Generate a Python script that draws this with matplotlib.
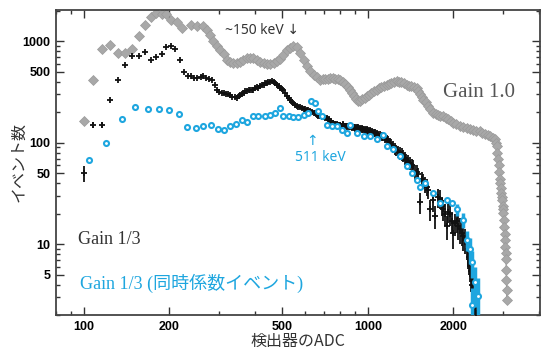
import matplotlib
matplotlib.use("Agg")
import matplotlib.pyplot as plt
from matplotlib.ticker import FixedLocator, LogLocator, NullFormatter, FixedFormatter

plt.rcParams['font.family'] = ['Noto Sans CJK JP', 'DejaVu Sans']

# Gain 1.0 (gray diamonds)
gray_x = [100, 108, 116, 124, 132, 140, 148, 156, 164, 172, 180, 188, 195, 203, 213, 222,
          238, 251, 264, 271, 279, 286, 294, 303, 311, 319, 328, 336, 346, 356, 365, 376,
          386, 396, 407, 418, 430, 441, 453, 466, 478, 492, 505, 519, 533, 547, 562, 578,
          594, 610, 627, 644, 662, 680, 694, 708, 722, 737, 752, 767, 783, 799, 815, 832,
          850, 867, 880, 895, 910, 927, 940, 955, 974, 993, 1010, 1028, 1050, 1077, 1095,
          1115, 1140, 1167, 1188, 1209, 1237, 1265, 1288, 1310, 1340, 1372, 1396, 1420,
          1453, 1486, 1506, 1527, 1548, 1570, 1600, 1630, 1660, 1702, 1735, 1767, 1800,
          1845, 1880, 1915, 1960, 2000, 2050, 2112, 2170, 2229, 2290, 2344, 2410, 2483,
          2530, 2584, 2640, 2692, 2750, 2803, 2825, 2843, 2860, 2871, 2885, 2897, 2910,
          2920, 2935, 2950, 2965, 2975, 2985, 2995, 3000, 3010, 3020, 3030, 3040, 3050,
          3058, 3065, 3070, 3075, 3080, 3085]
gray_y = [166, 417, 834, 922, 774, 762, 847, 1120, 1450, 1760, 1930, 1845, 1845, 1610, 1540, 1355,
          1450, 1430, 1420, 1300, 1150, 1000, 910, 828, 750, 660, 630, 612, 615, 630, 660, 685,
          690, 680, 660, 630, 610, 598, 600, 612, 640, 671, 740, 828, 870, 893, 880, 769,
          660, 567, 510, 470, 445, 420, 422, 425, 430, 436, 434, 430, 425, 420, 400, 380,
          355, 334, 310, 290, 270, 256, 260, 268, 278, 287, 298, 310, 322, 334, 345,
          355, 365, 374, 382, 390, 398, 404, 400, 395, 385, 374, 367, 360,
          354, 348, 325, 300, 283, 267, 250, 230, 215, 197, 192, 188, 185,
          182, 176, 170, 163, 157, 152, 148, 144, 140, 138, 135, 132, 130,
          126, 122, 119, 116, 112, 108, 100, 92, 80, 70, 60, 51, 44,
          40, 36, 32, 29, 27.5, 24, 22, 20.4, 17.5, 14.8, 12.5, 11, 9.3,
          8.2, 7.2, 5.6, 4.4, 3.5, 2.8]

# Gain 1/3 (black crosses)
black_x = [100, 108, 116, 124, 132, 140, 148, 156, 164, 172, 180, 188, 195, 203, 210, 218, 226,
           232, 238, 245, 251, 258, 264, 270, 277, 283, 289, 294, 300, 306, 311, 317, 322, 328,
           334, 340, 346, 352, 356, 361, 366, 371, 376, 381, 386, 391, 396, 402, 407, 412, 418,
           424, 430, 435, 441, 447, 453, 459, 466, 472, 478, 485, 492, 498, 505, 512, 519, 526,
           533, 540, 547, 555, 562, 570, 578, 587, 595, 603, 610, 618, 627, 635, 644, 653, 662,
           670, 680, 690, 700, 709, 718, 728, 737, 745, 755, 765, 777, 788, 799, 810, 820, 832,
           845, 857, 867, 880, 893, 905, 915, 927, 940, 952, 965, 978, 993, 1005, 1020, 1035,
           1048, 1062, 1075, 1090, 1105, 1120, 1135, 1150, 1165, 1179, 1195, 1210, 1230, 1245,
           1260, 1278, 1295, 1315, 1333, 1350, 1368, 1386, 1405, 1425, 1445, 1465, 1486, 1505,
           1527, 1550, 1570, 1590, 1610, 1630, 1656, 1690, 1722, 1760, 1795, 1820, 1840, 1870,
           1896, 1920, 1945, 1975, 2000, 2030, 2060, 2085, 2112, 2140, 2168, 2200, 2229, 2245,
           2260, 2275, 2288, 2305, 2321, 2335, 2350, 2368, 2384, 2400]
black_y = [50, 150, 150, 266, 417, 589, 722, 722, 779, 660, 695, 757, 873, 893, 841, 650, 501,
           460, 452, 440, 435, 445, 452, 440, 430, 420, 370, 334, 320, 312, 310, 300, 305, 298,
           285, 280, 277, 290, 298, 300, 310, 321, 321, 330, 334, 330, 334, 345, 355, 350, 361,
           370, 375, 385, 389, 395, 400, 404, 395, 385, 374, 360, 345, 340, 334, 310, 290, 277,
           265, 255, 245, 238, 232, 228, 224, 221, 218, 215, 212, 212, 205, 200, 198, 195, 190,
           186, 183, 180, 178, 177, 176, 170, 165, 160, 157, 155, 152, 150, 150, 148, 152, 147,
           145, 146, 146, 144, 142, 141, 140, 140, 138, 137, 136, 135, 135, 132, 130, 128,
           126, 125, 122, 120, 118, 117, 116, 112, 108, 105, 100, 96, 92, 88,
           85, 82, 79, 77, 74, 71, 68, 66, 63, 61, 59, 50, 52, 49,
           26, 44, 42, 39, 37, 34, 22, 27, 19, 29, 28, 24, 22, 20,
           15, 21, 20, 17, 13, 16, 17, 15, 14, 13, 12, 11, 10, 9,
           8.5, 7.5, 6.5, 5.5, 4.8, 4.0, 3.5, 3.0, 2.6, 2.1]
black_err = [9, 10, 10, 0, 0, 0, 0, 0, 0, 0, 0, 0, 0, 0, 0, 0, 0,
             0, 0, 0, 0, 0, 0, 0, 0, 0, 0, 0, 0, 0, 0, 0, 0, 0,
             0, 0, 0, 0, 0, 0, 0, 0, 0, 0, 0, 0, 0, 0, 0, 0, 0,
             0, 0, 0, 0, 0, 0, 0, 0, 0, 0, 0, 0, 0, 0, 0, 0, 0,
             0, 0, 0, 0, 0, 0, 0, 0, 0, 0, 0, 0, 0, 0, 0, 0, 0,
             10, 10, 10, 10, 10, 10, 10, 10, 10, 10, 10, 10, 10, 10, 10, 10, 10,
             12, 12, 12, 12, 12, 12, 12, 12, 12, 12, 12, 12, 12, 12, 12, 12,
             12, 12, 12, 12, 12, 12, 12, 12, 12, 12, 12, 12, 12, 12,
             11, 11, 11, 11, 10, 10, 10, 10, 9, 9, 9, 8, 8, 8,
             6, 7, 7, 7, 7, 6, 5, 6, 5, 6, 6, 5, 5, 5,
             4, 5, 5, 4, 4, 4, 4, 4, 4, 3.5, 3.5, 3, 3, 3,
             2.8, 2.5, 2.3, 2.1, 1.9, 1.7, 1.5, 1.3, 1.1, 1.0]

# Gain 1/3 coincidence events (blue circles)
blue_x = [104, 120, 136, 152, 168, 184, 200, 216, 231, 249, 264, 281, 298, 312, 328, 343, 361,
          376, 393, 412, 433, 453, 472, 492, 505, 526, 547, 570, 594, 618, 631, 653, 670, 688,
          718, 746, 778, 810, 844, 867, 914, 966, 1019, 1077, 1135, 1167, 1230, 1300, 1372,
          1430, 1486, 1527, 1589, 1702, 1795, 1896, 1974, 2054, 2168, 2240, 2288, 2321, 2384,
          2449, 2321]
blue_y = [67, 100, 172, 228, 217, 216, 209, 191, 144, 139, 145, 149, 137, 134, 145, 152, 169,
          159, 182, 182, 185, 188, 197, 221, 182, 182, 180, 180, 190, 197, 256, 247, 204, 183,
          150, 146, 146, 135, 125, 151, 125, 116, 116, 108, 120, 92, 86, 74, 59,
          50, 43, 37, 40, 32, 25.6, 27.5, 25.6, 22, 17.5, 11, 8.9, 6.6, 4.2,
          3.1, 2.5]
blue_err = [0, 0, 0, 0, 0, 0, 0, 0, 0, 0, 0, 0, 0, 0, 0, 0, 0,
            0, 0, 0, 0, 0, 0, 0, 0, 0, 0, 0, 0, 0, 0, 0, 0, 0,
            0, 0, 0, 0, 0, 0, 0, 0, 0, 0, 0, 0, 0, 0, 0,
            0, 0, 0, 0, 0, 0, 0, 0, 3, 3, 2.5, 2.5, 2, 1.8,
            1.5, 1.2]

xticks = [100, 200, 500, 1000, 2000]
yticks = [5, 10, 50, 100, 500, 1000]

gray_c = "#a8a8a8"
blue_c = "#1ea6df"

fig = plt.figure(figsize=(5.45, 3.52), dpi=100)
ax = fig.add_axes([0.103, 0.105, 0.888, 0.867])

# thin connecting line only shows in the steep tail
ax.plot(gray_x[-30:], gray_y[-30:], color="#8c8c8c", lw=0.8, zorder=1)
ax.plot(gray_x, gray_y, ls="none", marker="D", ms=5.0, mfc=gray_c, mec="#9a9a9a", mew=0.5, zorder=2)
ax.errorbar(black_x, black_y, yerr=black_err, fmt="+", color="#111111", ms=5, mew=1.3,
            elinewidth=1.3, capsize=0, zorder=3)
ax.errorbar(blue_x, blue_y, yerr=blue_err, fmt="o", ms=3.6, mfc="white", mec=blue_c, mew=1.5,
            ecolor=blue_c, elinewidth=2.5, capsize=0, zorder=4)

ax.set_xscale("log")
ax.set_yscale("log")
ax.set_xlim(80, 4040)
ax.set_ylim(2.0, 2050)

ax.xaxis.set_major_locator(FixedLocator(xticks))
ax.xaxis.set_major_formatter(FixedFormatter([str(v) for v in xticks]))
ax.xaxis.set_minor_locator(LogLocator(subs=range(2, 10), numticks=20))
ax.xaxis.set_minor_formatter(NullFormatter())
ax.yaxis.set_major_locator(FixedLocator(yticks))
ax.yaxis.set_major_formatter(FixedFormatter([str(v) for v in yticks]))
ax.yaxis.set_minor_locator(LogLocator(subs=range(2, 10), numticks=20))
ax.yaxis.set_minor_formatter(NullFormatter())

ax.tick_params(which="both", direction="in", top=True, right=True, color="#333333", width=1.0)
ax.tick_params(which="major", length=6, pad=4)
ax.tick_params(which="minor", length=3)
for lab in ax.get_xticklabels() + ax.get_yticklabels():
    lab.set_fontfamily("Liberation Sans")
    lab.set_fontweight("bold")
    lab.set_fontsize(9)
for s in ax.spines.values():
    s.set_color("#444444")
    s.set_linewidth(1.3)

ax.set_xlabel("検出器のADC", fontsize=11.5, color="#333333", labelpad=0)
ax.set_ylabel("イベント数", fontsize=11.5, color="#333333")
ax.yaxis.set_label_coords(-0.06, 0.5)

ax.text(315, 1274, "~150 keV ↓", fontsize=10, color="#333333", va="center", ha="left",
        family=["Noto Sans", "DejaVu Sans"])
ax.text(635, 105, "↑", fontsize=10, color=blue_c, va="center", ha="center",
        family=["DejaVu Sans"])
ax.text(680, 71.5, "511 keV", fontsize=10, color=blue_c, va="center", ha="center",
        family=["Noto Sans"])
ax.text(2461, 313, "Gain 1.0", fontsize=15, color="#555555", va="center", ha="center",
        family=["Liberation Serif"])
ax.text(95.8, 11.1, "Gain 1/3", fontsize=13, color="#333333", va="center", ha="left",
        family=["Liberation Serif"])
ax.text(97.4, 4.1, "Gain 1/3 (同時係数イベント)", fontsize=13, color=blue_c, va="center", ha="left",
        family=["Liberation Serif", "Noto Sans CJK JP"])

fig.savefig("out.png", dpi=100)
